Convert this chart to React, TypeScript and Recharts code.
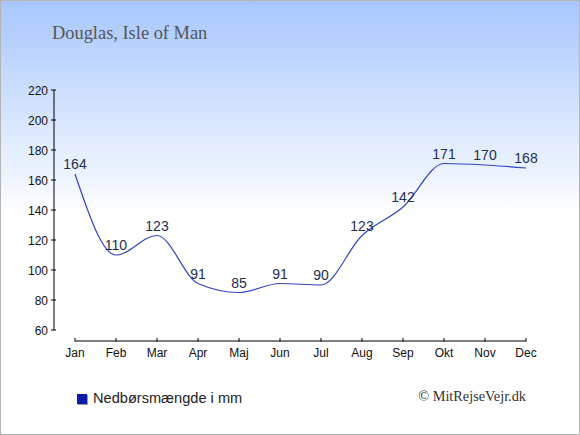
import React from 'react';
import { LineChart, Line, XAxis, YAxis, LabelList, ReferenceLine } from 'recharts';

const months = ['Jan', 'Feb', 'Mar', 'Apr', 'Maj', 'Jun', 'Jul', 'Aug', 'Sep', 'Okt', 'Nov', 'Dec'];
const rainfall = [164, 110, 123, 91, 85, 91, 90, 123, 142, 171, 170, 168];
const yTicks = [60, 80, 100, 120, 140, 160, 180, 200, 220];

const data = months.map((month, i) => ({ month, rain: rainfall[i] }));

const SANS = '"Liberation Sans", Arial, sans-serif';
const SERIF = '"Liberation Serif", "Times New Roman", serif';

// x axis sits a little below the 60 line, ticks point upwards
const MonthTick = ({ x, y, payload }: any) => (
  <g>
    <line x1={x} x2={x} y1={y + 8} y2={y + 11.5} stroke="#000" />
    <text x={x} y={y + 27} textAnchor="middle" fontSize={12} fill="#111" fontFamily={SANS}>
      {payload.value}
    </text>
  </g>
);

const ValueTick = ({ x, y, payload }: any) => (
  <g>
    <line x1={x - 3} x2={x + 2} y1={y} y2={y} stroke="#000" />
    <text x={x - 6} y={y + 4.5} textAnchor="end" fontSize={12} fill="#111" fontFamily={SANS}>
      {payload.value}
    </text>
  </g>
);

const OffsetAxisLine = (props: any) => (
  <line x1={props.x1} x2={props.x2} y1={props.y1 + 11} y2={props.y2 + 11} stroke="#000" strokeWidth={1} />
);

export default function App() {
  return (
    <div
      style={{
        position: 'relative',
        width: 580,
        height: 435,
        boxSizing: 'border-box',
        border: '1px solid #b4b4b4',
        background: 'linear-gradient(to bottom, #a7c7fd 0%, #ffffff 50%, #ffffff 100%)',
      }}
    >
      <style>{'body{margin:0}'}</style>
      <LineChart width={578} height={433} data={data} margin={{ top: 89, right: 53, bottom: 74, left: 0 }}>
        <XAxis
          dataKey="month"
          scale="point"
          padding={{ left: 21, right: 0 }}
          axisLine={false}
          tickLine={false}
          tickSize={0}
          tickMargin={0}
          tick={<MonthTick />}
          interval={0}
        />
        <YAxis
          width={53}
          domain={[60, 220]}
          ticks={yTicks}
          interval={0}
          axisLine={{ stroke: '#000' }}
          tickLine={false}
          tickSize={0}
          tickMargin={0}
          tick={<ValueTick />}
        />
        <ReferenceLine
          segment={[{ x: 'Jan', y: 60 }, { x: 'Dec', y: 60 }]}
          ifOverflow="visible"
          shape={OffsetAxisLine}
        />
        <Line
          type="monotone"
          dataKey="rain"
          stroke="#3444c8"
          strokeWidth={1.2}
          dot={false}
          isAnimationActive={false}
        >
          <LabelList dataKey="rain" position="top" offset={5} fontSize={14} fill="#1d3050" fontFamily={SANS} />
        </Line>
      </LineChart>
      <svg
        width={580}
        height={435}
        style={{ position: 'absolute', left: -1, top: -1, pointerEvents: 'none' }}
      >
        <text x={52} y={39} fontSize={18.4} fill="#555" fontFamily={SERIF}>
          Douglas, Isle of Man
        </text>
        <rect x={78} y={395} width={10} height={10} fill="#9a9a9a" />
        <rect x={77} y={394} width={10} height={10} fill="#0b1aa9" />
        <text x={93} y={403} fontSize={14.6} fill="#222" fontFamily={SANS}>
          Nedbørsmængde i mm
        </text>
        <text x={526} y={401} textAnchor="end" fontSize={14.3} fill="#333" fontFamily={SERIF}>
          © MitRejseVejr.dk
        </text>
      </svg>
    </div>
  );
}
